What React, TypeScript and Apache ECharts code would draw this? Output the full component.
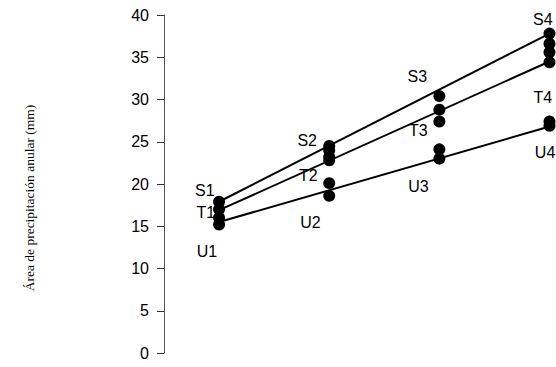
import React, { useEffect, useRef } from "react";
import * as echarts from "echarts";

const yTicks = [0, 5, 10, 15, 20, 25, 30, 35, 40];
const groups = [1, 2, 3, 4];
const pointValues: number[][] = [
  [17.9, 17.0, 16.0, 15.2],
  [24.5, 24.0, 23.2, 22.8, 20.1, 18.6],
  [30.4, 28.8, 27.4, 24.1, 23.0],
  [37.8, 36.6, 35.6, 34.4, 27.4, 26.9],
];
const lineS = [17.9, 37.8];
const lineT = [16.9, 34.5];
const lineU = [15.5, 26.8];
const labelNames = ["S1", "T1", "U1", "S2", "T2", "U2", "S3", "T3", "U3", "S4", "T4", "U4"];
const labelX = [0.87, 0.88, 0.89, 1.8, 1.81, 1.83, 2.8, 2.81, 2.81, 3.94, 3.94, 3.96];
const labelValues = [19.2, 16.6, 12.0, 25.2, 21.0, 15.4, 32.7, 26.3, 19.7, 39.5, 30.2, 23.7];
const yAxisTitle = "Área de precipitación anular (mm)";

export default function App() {
  const ref = useRef<HTMLDivElement>(null);
  useEffect(() => {
    if (!ref.current) return;
    const chart = echarts.init(ref.current, null, { renderer: "svg" });
    const scatterData: number[][] = [];
    pointValues.forEach((vals, i) => vals.forEach((v) => scatterData.push([groups[i], v])));
    const first = groups[0];
    const last = groups[groups.length - 1];
    const lineStyle = { color: "#000", width: 2 };
    chart.setOption({
      animation: false,
      backgroundColor: "#fff",
      grid: { left: 164, right: 1, top: 15, bottom: 14 },
      xAxis: {
        type: "value",
        min: 0.5,
        max: 4.05,
        show: false,
      },
      yAxis: {
        type: "value",
        min: yTicks[0],
        max: yTicks[yTicks.length - 1],
        interval: 5,
        axisLine: { show: true, lineStyle: { color: "#555", width: 1 } },
        axisTick: { show: true, inside: false, length: 7, lineStyle: { color: "#333" } },
        splitLine: { show: false },
        axisLabel: {
          color: "#000",
          fontFamily: "Liberation Sans, Arial, sans-serif",
          fontSize: 16,
          margin: 15,
        },
      },
      graphic: [
        {
          type: "text",
          x: 29,
          y: 198,
          rotation: Math.PI / 2,
          style: {
            text: yAxisTitle,
            fill: "#000",
            font: "13.5px 'Liberation Serif', 'Times New Roman', serif",
            align: "center",
            verticalAlign: "middle",
          },
        },
      ],
      series: [
        {
          type: "line",
          data: [[first, lineS[0]], [last, lineS[1]]],
          symbol: "none",
          lineStyle,
          z: 2,
        },
        {
          type: "line",
          data: [[first, lineT[0]], [last, lineT[1]]],
          symbol: "none",
          lineStyle,
          z: 2,
        },
        {
          type: "line",
          data: [[first, lineU[0]], [last, lineU[1]]],
          symbol: "none",
          lineStyle,
          z: 2,
        },
        {
          type: "scatter",
          data: scatterData,
          symbol: "circle",
          symbolSize: 12,
          itemStyle: { color: "#000", opacity: 1 },
          z: 3,
        },
        {
          type: "scatter",
          data: labelNames.map((n, i) => ({ name: n, value: [labelX[i], labelValues[i]] })),
          symbolSize: 0,
          itemStyle: { opacity: 1, color: "#000" },
          z: 4,
          label: {
            show: true,
            position: "inside",
            formatter: (p: any) => p.name,
            color: "#000",
            opacity: 1,
            fontFamily: "Liberation Sans, Arial, sans-serif",
            fontSize: 16,
          },
        },
      ],
    });
    return () => chart.dispose();
  }, []);
  return (
    <div
      ref={ref}
      style={{ position: "absolute", left: 0, top: 0, width: 556, height: 367 }}
    />
  );
}
